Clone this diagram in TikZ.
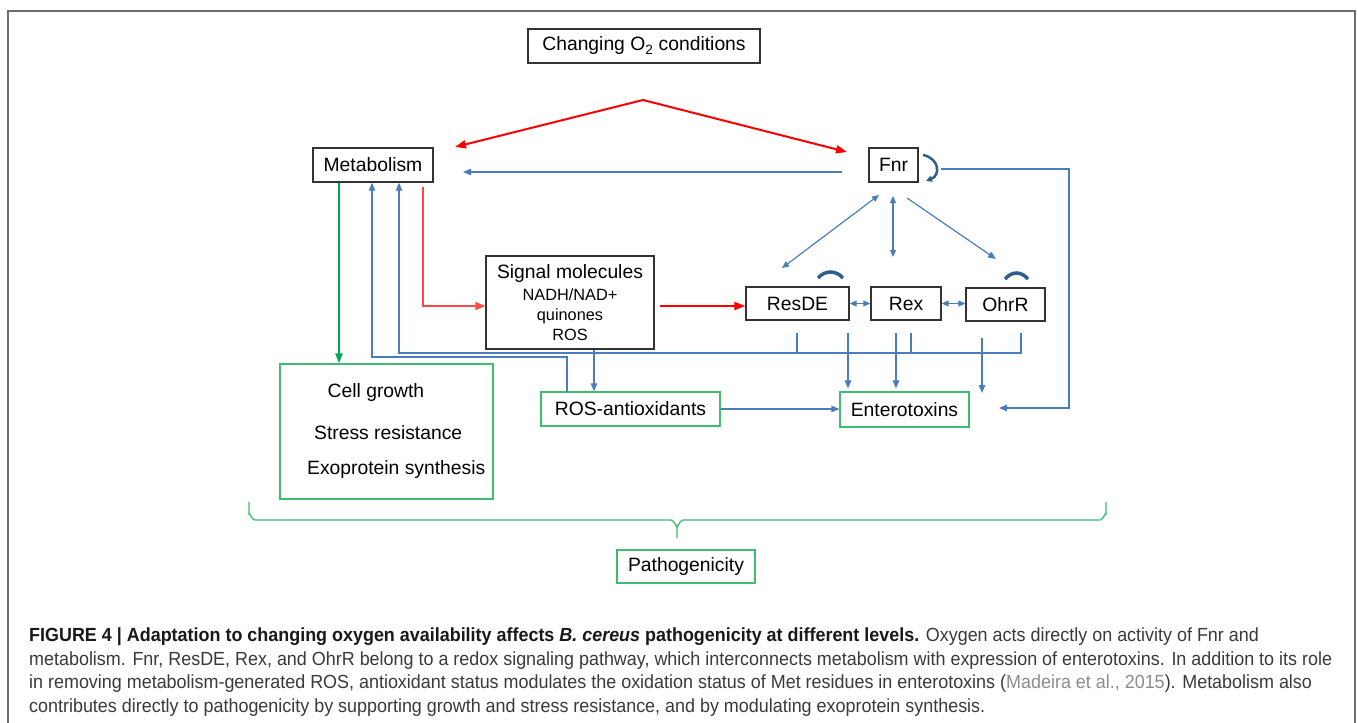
\documentclass[tikz,border=0pt]{standalone}
\usepackage{fontspec}
\setmainfont{Liberation Sans}
\newfontfamily\capfont{Liberation Sans}
\usetikzlibrary{arrows.meta}
\definecolor{lblue}{HTML}{4A7EBB}
\definecolor{dblue}{HTML}{2F5F8F}
\definecolor{gbox}{HTML}{3DBE6E}
\definecolor{garrow}{HTML}{00A550}
\definecolor{bbord}{HTML}{333333}
\definecolor{capgray}{HTML}{3A3A3A}
\definecolor{citegray}{HTML}{8C8C8C}
\definecolor{framegray}{HTML}{6E6E6E}
\definecolor{lred}{HTML}{FF4A4A}
\newlength\capw
\newcommand\capsize{\capfont\fontsize{19}{23.5}\selectfont}
\newcommand\capLineB{metabolism. Fnr, ResDE, Rex, and OhrR belong to a redox signaling pathway, which interconnects metabolism with expression of enterotoxins. In addition to its role}
\newsavebox\capmeasure
\begin{document}
\sbox\capmeasure{\capsize\capLineB}%
\setlength\capw{\wd\capmeasure}%
\pgfmathsetmacro\capscale{1303/(\capw/1pt)}%
\begin{tikzpicture}[x=1pt,y=-1pt,
  lab/.style={font=\fontsize{19.3}{22}\selectfont},
  bbox/.style={draw=bbord, line width=1.3pt, inner sep=0pt, lab},
  gboxs/.style={draw=gbox, line width=1.3pt, inner sep=0pt, lab},
  txt/.style={inner sep=0pt, lab},
  bl/.style={draw=lblue, line width=1.2pt},
  bla/.style={bl, -{Triangle[length=8pt,width=6.5pt]}},
  blaa/.style={bl, {Triangle[length=7pt,width=6pt]}-{Triangle[length=7pt,width=6pt]}},
  rthick/.style={draw=red, line width=2pt, -{Triangle[length=11pt,width=8pt]}},
  rthin/.style={draw=lred, line width=1.3pt, -{Triangle[length=10pt,width=8pt]}},
  garr/.style={draw=garrow, line width=2pt, -{Triangle[length=10pt,width=7pt]}},
  capmark/.style={draw=dblue, line width=3.5pt},
  capline/.style={anchor=base west, inner sep=0pt, text=capgray}
]
\fill[white] (0,0) rectangle (1358,723);
\useasboundingbox (0,0) rectangle (1358,723);
\draw[framegray, line width=1.6pt] (8,723) -- (8,11) -- (1355,11) -- (1355,723);

% nodes
\node[bbox, minimum width=232, minimum height=34] (o2) at (644,46) {Changing O\textsubscript{2} conditions};
\node[bbox, minimum width=120, minimum height=34] (met) at (373,165) {Metabolism};
\node[bbox, minimum width=49, minimum height=34] (fnr) at (893.5,165) {Fnr};
\node[bbox, minimum width=168, minimum height=93, align=center,
      font=\fontsize{16.3}{20}\selectfont] (sig) at (570,302.5)
      {{\fontsize{19.3}{20}\selectfont Signal molecules}\\[2pt]NADH/NAD+\\quinones\\ROS};
\node[bbox, minimum width=103, minimum height=33] (resde) at (797.5,303.5) {ResDE};
\node[bbox, minimum width=70, minimum height=33] (rex) at (906,303.5) {Rex};
\node[bbox, minimum width=79, minimum height=33] (ohrr) at (1005.5,304.5) {OhrR};
\node[gboxs, minimum width=213, minimum height=135] (cell) at (386.5,431.5) {};
\node[txt, anchor=west] (cg1) at (327.5,393) {Cell growth};
\node[txt, anchor=west] (cg2) at (314,433) {Stress resistance};
\node[txt, anchor=west] (cg3) at (307,470) {Exoprotein synthesis};
\node[gboxs, minimum width=179, minimum height=34] (rosa) at (630.5,409) {ROS-antioxidants};
\node[gboxs, minimum width=129, minimum height=35] (ent) at (904.5,409.5) {Enterotoxins};
\node[gboxs, minimum width=138, minimum height=33] (path) at (686,566.5) {Pathogenicity};

% coordinates
\coordinate (peak) at (643,100);
\coordinate (metR) at (455,147);
\coordinate (fnrL) at (847,152);
\coordinate (fm1) at (842,172);
\coordinate (fm2) at (463,172);
\coordinate (fr1) at (941,169);
\coordinate (fr3) at (1069,408);
\coordinate (fr4) at (999,408);
\coordinate (fres1) at (879,195);
\coordinate (fres2) at (782,268);
\coordinate (frex1) at (893,196);
\coordinate (frex2) at (893,257);
\coordinate (foh1) at (907,198);
\coordinate (foh2) at (996,259);
\coordinate (ohrstub) at (1021,333);
\coordinate (fa2) at (399,353);
\coordinate (st1) at (797,333);
\coordinate (st2) at (911,333);
\coordinate (fb1) at (567,392);
\coordinate (fb2) at (372,357);
\coordinate (sx) at (594,0);
\coordinate (d1) at (848,333);
\coordinate (d2) at (896,333);
\coordinate (d3) at (982,338);
\coordinate (d3e) at (982,393);
\coordinate (rr) at (0,306);
\coordinate (mr1) at (423,187);
\coordinate (gx) at (339,0);

% red connectors
\draw[rthick] (peak) -- (metR);
\draw[rthick] (peak) -- (fnrL);
\draw[rthick] ([xshift=5pt]sig.east |- rr) -- (resde.west |- rr);
\draw[rthin] (mr1) |- (sig.west |- rr);

% green
\draw[garr] (met.south -| gx) -- (cell.north -| gx);

% blue connectors
\draw[bla] (fm1) -- (fm2);
\draw[bla] (fr1) -| (fr3) -- (fr4);
\draw[blaa] (fres1) -- (fres2);
\draw[blaa] (frex1) -- (frex2);
\draw[bla] (foh1) -- (foh2);
\draw[blaa] (resde.east) -- (resde.east -| rex.west);
\draw[blaa] (rex.east) -- (rex.east -| ohrr.west);
\draw[bla] (ohrstub) |- (fa2) -- (fa2 |- met.south);
\draw[bl] (st1) -- (st1 |- fa2);
\draw[bl] (st2) -- (st2 |- fa2);
\draw[bla] (fb1) |- (fb2) -- (fb2 |- met.south);
\draw[bla] (sig.south -| sx) -- (rosa.north -| sx);
\draw[bla] (rosa.east) -- (rosa.east -| ent.west);
\draw[bla, shorten >=3pt] (d1) -- (d1 |- ent.north);
\draw[bla, shorten >=3pt] (d2) -- (d2 |- ent.north);
\draw[bla] (d3) -- (d3e);

% dark blue marks
\draw[draw=dblue, line width=2.5pt, -{Triangle[length=6pt,width=6pt]}] (923,155) .. controls (939,158) and (941,175) .. (926,181);
\draw[capmark] (818,278) .. controls (825,270) and (836,270) .. (843,278);
\draw[capmark] (1005,279) .. controls (1012,271) and (1021,271) .. (1028,279);

% brace
\draw[draw=gbox, line width=1.3pt] (249,502) -- (249,514) to[out=90,in=180] (255,520) -- (671,520)
  to[out=0,in=-90] (677,526) -- (677,538);
\draw[draw=gbox, line width=1.3pt] (677,526) to[out=-90,in=180] (683,520) -- (1100,520)
  to[out=0,in=90] (1106,514) -- (1106,502);

% caption
\node[capline] (cap1) at (29,641.5) {\scalebox{\capscale}[1]{\capsize\textcolor{black!90}{\bfseries FIGURE 4 | Adaptation to changing oxygen availability affects \textit{B. cereus} pathogenicity at different levels.} Oxygen acts directly on activity of Fnr and}};
\node[capline] (cap2) at (29,665) {\scalebox{\capscale}[1]{\capsize\capLineB}};
\node[capline] (cap3) at (29,688.5) {\scalebox{\capscale}[1]{\capsize in removing metabolism-generated ROS, antioxidant status modulates the oxidation status of Met residues in enterotoxins (\textcolor{citegray}{Madeira et al., 2015}). Metabolism also}};
\node[capline] (cap4) at (29,712) {\scalebox{\capscale}[1]{\capsize contributes directly to pathogenicity by supporting growth and stress resistance, and by modulating exoprotein synthesis.}};
\end{tikzpicture}
\end{document}
